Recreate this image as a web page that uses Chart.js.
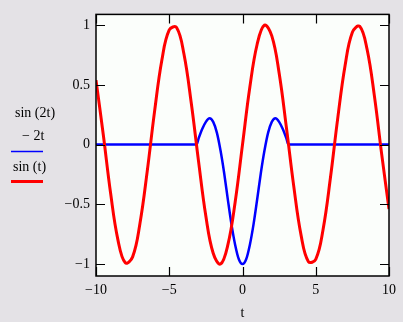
<!DOCTYPE html>
<html>
<head>
<meta charset="utf-8">
<script src="https://cdn.jsdelivr.net/npm/chart.js@4/dist/chart.umd.min.js"></script>
<style>
    html, body { margin: 0; padding: 0; background: #e4e2e6; }
    #wrap { width: 403px; height: 322px; }
</style>
</head>
<body>
<div id="wrap"><canvas id="plot"></canvas></div>
<script>
// x axis
const xTicks = [-10, -5, 0, 5, 10]
const yTicks = [1, 0.5, 0, -0.5, -1]

// sin(t), read every 0.5 from -10 to 10
const redT = [-10, -9.5, -9, -8.5, -8, -7.5, -7, -6.5, -6, -5.5, -5, -4.5, -4, -3.5, -3, -2.5, -2, -1.5, -1, -0.5,
    0, 0.5, 1, 1.5, 2, 2.5, 3, 3.5, 4, 4.5, 5, 5.5, 6, 6.5, 7, 7.5, 8, 8.5, 9, 9.5, 10]
const redY = [0.54, 0.08, -0.41, -0.80, -0.99, -0.94, -0.66, -0.22, 0.28, 0.71, 0.96, 0.98, 0.76, 0.35, -0.14, -0.60, -0.91, -1.00, -0.84, -0.48,
    0, 0.48, 0.84, 1.00, 0.91, 0.60, 0.14, -0.35, -0.76, -0.98, -0.96, -0.71, -0.28, 0.22, 0.66, 0.94, 0.99, 0.80, 0.41, -0.08, -0.54]

// sin(2t)/-2t, flat at 0 outside the middle lobes
const blueT = [-10, -3.14, -3, -2.75, -2.5, -2.25, -2, -1.75, -1.5, -1.25, -1, -0.75, -0.5, -0.25,
    0, 0.25, 0.5, 0.75, 1, 1.25, 1.5, 1.75, 2, 2.25, 2.5, 2.75, 3, 3.14, 10]
const blueY = [0, 0, 0.05, 0.13, 0.19, 0.22, 0.19, 0.10, -0.05, -0.24, -0.46, -0.67, -0.84, -0.96,
    -1.00, -0.96, -0.84, -0.67, -0.46, -0.24, -0.05, 0.10, 0.19, 0.22, 0.19, 0.13, 0.05, 0, 0]

const legendLines = ["sin (2t)", "\u2212 2t", "sin (t)"]

function points(xs, ys) {
    return xs.map((x, i) => ({x: x, y: ys[i]}))
}

function minus(v) {
    return String(v).replace("-", "\u2212")
}

// frame, inward ticks and the left-hand legend
const framePlugin = {
    id: "frame",
    beforeDatasetsDraw(chart) {
        const a = chart.chartArea
        const ctx = chart.ctx
        ctx.save()
        ctx.fillStyle = "#fbfefb"
        ctx.fillRect(a.left, a.top, a.right - a.left, a.bottom - a.top)
        ctx.restore()
    },
    afterDatasetsDraw(chart) {
        const a = chart.chartArea
        const ctx = chart.ctx
        const xs = chart.scales.x
        const ys = chart.scales.y
        ctx.save()
        ctx.strokeStyle = "#000"
        ctx.lineWidth = 1.5
        ctx.strokeRect(a.left, a.top, a.right - a.left, a.bottom - a.top)
        ctx.lineWidth = 1.2
        ctx.beginPath()
        xTicks.forEach(v => {
            const px = Math.round(xs.getPixelForValue(v)) + 0.5
            ctx.moveTo(px, a.bottom); ctx.lineTo(px, a.bottom - 9)
            ctx.moveTo(px, a.top); ctx.lineTo(px, a.top + 9)
        })
        yTicks.forEach(v => {
            const py = Math.round(ys.getPixelForValue(v)) + 0.5
            ctx.moveTo(a.left, py); ctx.lineTo(a.left + 9, py)
            ctx.moveTo(a.right, py); ctx.lineTo(a.right - 9, py)
        })
        ctx.stroke()

        // legend
        ctx.fillStyle = "#000"
        ctx.font = "14px 'Liberation Serif'"
        ctx.textBaseline = "middle"
        ctx.fillText(legendLines[0], 15, 113)
        ctx.fillText(legendLines[1], 22, 136)
        ctx.fillText(legendLines[2], 13, 167)
        ctx.strokeStyle = "#0000ff"
        ctx.lineWidth = 1.5
        ctx.beginPath(); ctx.moveTo(11, 151.5); ctx.lineTo(43, 151.5); ctx.stroke()
        ctx.strokeStyle = "#ff0000"
        ctx.lineWidth = 3
        ctx.beginPath(); ctx.moveTo(11, 181.5); ctx.lineTo(43, 181.5); ctx.stroke()
        ctx.restore()
    }
}

function set_up_chart() {
    const config = {
        type: "line",
        data: {
            datasets: [
                {
                    label: "sin(t)",
                    data: points(redT, redY),
                    borderColor: "#ff0000",
                    borderWidth: 3,
                    pointRadius: 0,
                    tension: 0.4,
                    order: 0
                }, {
                    label: "sin(2t)/-2t",
                    data: points(blueT, blueY),
                    borderColor: "#0000ff",
                    borderWidth: 2.5,
                    pointRadius: 0,
                    cubicInterpolationMode: "monotone",
                    order: 1
                }
            ]
        },
        options: {
            responsive: true,
            maintainAspectRatio: false,
            animation: false,
            events: [],
            layout: {padding: {top: 11, right: 14, left: 0, bottom: 0}},
            plugins: {legend: {display: false}, tooltip: {enabled: false}},
            scales: {
                x: {
                    type: "linear",
                    min: -10,
                    max: 10,
                    afterFit: s => { s.height = 46 },
                    afterBuildTicks: s => { s.ticks = xTicks.map(v => ({value: v})) },
                    grid: {display: false, drawTicks: false},
                    border: {display: false},
                    ticks: {
                        padding: 6,
                        color: "#000",
                        font: {family: "'Liberation Serif'", size: 14},
                        callback: v => minus(v)
                    },
                    title: {
                        display: true,
                        text: "t",
                        color: "#000",
                        padding: {top: 9, bottom: 0},
                        font: {family: "'Liberation Serif'", size: 14}
                    }
                },
                y: {
                    min: -1.1,
                    max: 1.09,
                    afterFit: s => { s.width = 96 },
                    afterBuildTicks: s => { s.ticks = yTicks.map(v => ({value: v})) },
                    grid: {display: false, drawTicks: false},
                    border: {display: false},
                    ticks: {
                        padding: 6,
                        color: "#000",
                        font: {family: "'Liberation Serif'", size: 14},
                        callback: v => minus(v)
                    }
                }
            }
        },
        plugins: [framePlugin]
    }
    new Chart(document.querySelector("#plot"), config)
}

set_up_chart()
</script>
</body>
</html>
